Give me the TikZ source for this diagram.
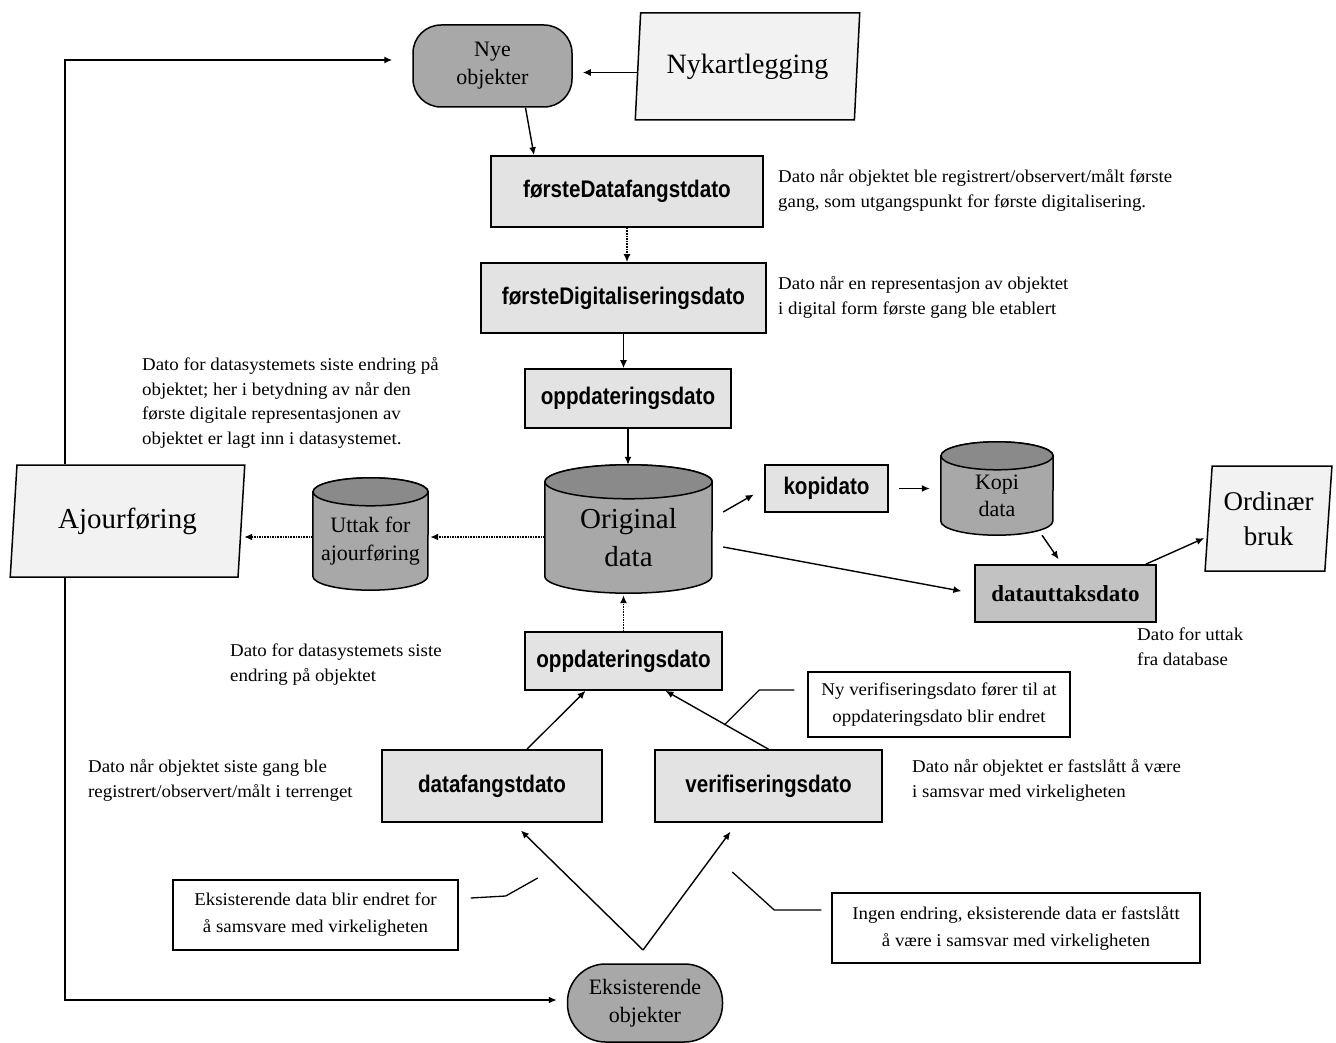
\documentclass[tikz,border=0pt]{standalone}
\usepackage{fontspec}
\setmainfont{Liberation Serif}
\newfontfamily\annotfont[FakeStretch=1.05]{Liberation Serif}
\newfontfamily\boxfont[FakeStretch=0.86]{Liberation Sans}
\usetikzlibrary{arrows.meta,shapes.geometric,calc}
\colorlet{cylfill}{black!34}
\colorlet{capfill}{black!46}
\colorlet{boxfill}{black!11}
\colorlet{parafill}{black!5}
\tikzset{
 arr/.style={-{Latex[length=8pt,width=7pt]}, line width=1.4pt},
 dotarr/.style={-{Latex[length=8pt,width=7pt]}, line width=1.6pt, densely dotted},
 datebox/.style={draw, line width=1.6pt, fill=boxfill, inner sep=2pt, font=\boxfont\bfseries\fontsize{24}{26}\selectfont},
 para/.style={trapezium, trapezium stretches=true, draw, line width=1.5pt, fill=parafill, inner sep=0pt, align=center},
 note/.style={align=left, inner sep=0pt, anchor=west, font=\annotfont\fontsize{18}{25}\selectfont},
 callout/.style={draw, line width=1.5pt, fill=white, align=center, inner sep=0pt, font=\annotfont\fontsize{18}{27}\selectfont},
 leader/.style={line width=1.3pt},
 term/.style={draw, line width=1.5pt, fill=cylfill, align=center, inner sep=0pt},
}
\newcommand\mycyl[8]{%
  \node[inner sep=0pt, minimum width=#4pt, minimum height=#5pt] (#1) at (#2,-#3) {};
  \path[draw, line width=1.5pt, fill=cylfill]
    ($(#1.north west)+(0,-#6)$) -- ($(#1.south west)+(0,#6)$)
    arc[start angle=180, end angle=360, x radius=#4/2, y radius=#6]
    -- ($(#1.north east)+(0,-#6)$)
    arc[start angle=0, end angle=180, x radius=#4/2, y radius=#6] -- cycle;
  \draw[line width=1.5pt, fill=capfill] ($(#1.north)+(0,-#6)$) ellipse[x radius=#4/2, y radius=#6];
  \node[align=center, inner sep=0pt, font=#8] (#1t) at ($(#1.center)+(0,-#6/2)$) {#7};
}
\begin{document}
\begin{tikzpicture}[x=1pt,y=1pt]
\useasboundingbox (0,0) rectangle (1336,-1043);

% terminals and input shapes
\node[term, rounded corners=28pt, minimum width=159pt, minimum height=82pt, font=\fontsize{22}{28}\selectfont] (nye) at (492.5,-66) {Nye\\objekter};
\node[para, trapezium left angle=81, trapezium right angle=99, minimum width=225pt, minimum height=107pt, font=\fontsize{28}{30}\selectfont] (nyk) at (747.5,-66.5) {Nykartlegging};
\node[para, trapezium left angle=81, trapezium right angle=99, minimum width=235pt, minimum height=112pt, font=\fontsize{29}{30}\selectfont] (ajo) at (127.5,-521) {Ajourføring};
\node[para, trapezium left angle=84, trapezium right angle=96, minimum width=127pt, minimum height=105pt, font=\fontsize{27}{35}\selectfont] (ord) at (1268.5,-518.5) {Ordinær\\bruk};
\node[term, rounded corners=38pt, minimum width=155pt, minimum height=78pt, font=\fontsize{22}{28}\selectfont] (eks) at (645,-1003) {Eksisterende\\objekter};

% date boxes
\node[datebox, minimum width=272pt, minimum height=71pt] (fdf) at (627,-191.5) {førsteDatafangstdato};
\node[datebox, minimum width=285pt, minimum height=70pt] (fdig) at (623.5,-298) {førsteDigitaliseringsdato};
\node[datebox, minimum width=206pt, minimum height=59pt] (opp1) at (628,-398.5) {oppdateringsdato};
\node[datebox, minimum width=123pt, minimum height=47pt] (kopi) at (826.5,-488.5) {kopidato};
\node[datebox, minimum width=181pt, minimum height=57pt, fill=black!24, font=\rmfamily\bfseries\fontsize{23}{26}\selectfont] (daut) at (1065.5,-593.5) {datauttaksdato};
\node[datebox, minimum width=197pt, minimum height=58pt] (opp2) at (623.5,-661) {oppdateringsdato};
\node[datebox, minimum width=220pt, minimum height=72pt] (dfang) at (492,-786) {datafangstdato};
\node[datebox, minimum width=227pt, minimum height=72pt] (ver) at (768.5,-786) {verifiseringsdato};

% cylinders
\mycyl{orig}{628.5}{529}{167}{128}{17}{Original\\data}{\fontsize{29}{38}\selectfont}
\mycyl{uttak}{370.5}{534}{115}{112}{14}{Uttak for\\ajourføring}{\fontsize{22}{28}\selectfont}
\mycyl{kdata}{997}{488.5}{112}{93}{14}{Kopi\\data}{\fontsize{22}{27}\selectfont}

% callouts
\node[callout, minimum width=262pt, minimum height=65pt] (nyver) at (939,-704.5) {Ny verifiseringsdato fører til at\\oppdateringsdato blir endret};
\node[callout, minimum width=285pt, minimum height=70pt] (eksc) at (315.5,-915) {Eksisterende data blir endret for\\å samsvare med virkeligheten};
\node[callout, minimum width=368pt, minimum height=70pt] (ingen) at (1016,-928) {Ingen endring, eksisterende data er fastslått\\å være i samsvar med virkeligheten};

% notes
\node[note] (n1) at (778,-190.5) {Dato når objektet ble registrert/observert/målt første\\gang, som utgangspunkt for første digitalisering.};
\node[note] (n2) at (778,-297.5) {Dato når en representasjon av objektet\\i digital form første gang ble etablert};
\node[note, font=\annotfont\fontsize{18}{24.7}\selectfont] (n3) at (142,-403) {Dato for datasystemets siste endring på\\objektet; her i betydning av når den\\første digitale representasjonen av\\objektet er lagt inn i datasystemet.};
\node[note] (n4) at (230,-665) {Dato for datasystemets siste\\endring på objektet};
\node[note] (n5) at (88,-780) {Dato når objektet siste gang ble\\registrert/observert/målt i terrenget};
\node[note] (n6) at (912,-780) {Dato når objektet er fastslått å være\\i samsvar med virkeligheten};
\node[note] (n7) at (1137,-647) {Dato for uttak\\fra database};

% coordinates
\coordinate (lx) at (65,-521);
\coordinate (vtip) at (643,-950);

% connectors
\draw[arr, shorten >=10pt] ([yshift=-6pt]nyk.west) -- ([yshift=-6pt]nyk.west -| nye.east);
\draw[arr] ([xshift=33pt]nye.south) -- ([xshift=-93pt]fdf.north);
\draw[arr] (lx |- ajo.north) |- ([xshift=-20pt,yshift=6pt]nye.west);
\draw[dotarr] (fdf.south) -- (fdf.south |- fdig.north);
\draw[arr] (fdig.south) -- (fdig.south |- opp1.north);
\draw[arr] (opp1.south) -- (opp1.south |- orig.north);
\draw[dotarr, shorten >=2pt] ([yshift=-8pt]orig.west) -- ([yshift=-8pt]orig.west -| uttak.east);
\draw[dotarr, shorten >=2pt] ([yshift=-3pt]uttak.west) -- ([yshift=-3pt]uttak.west -| ajo.east);
\draw[arr, shorten >=12pt] ([xshift=11pt,yshift=17pt]orig.east) -- (kopi.west);
\draw[arr, shorten <=10pt, shorten >=11pt] (kopi.east) -- (kopi.east -| kdata.west);
\draw[arr, shorten >=6pt] ([xshift=45pt]kdata.south) -- ([xshift=-3.5pt]daut.north);
\draw[arr, shorten >=13pt] ([xshift=11pt,yshift=-18pt]orig.east) -- (daut.west);
\draw[arr, shorten >=4pt] ([xshift=-11pt]daut.north east) -- ([yshift=-18pt]ord.west);
\draw[dotarr, shorten >=2pt] (opp2.north) -- (opp2.north |- orig.south);
\draw[arr] ([xshift=35pt]dfang.north) -- ([xshift=-38pt]opp2.south);
\draw[arr] (ver.north) -- ([xshift=42pt]opp2.south);
\draw[arr, shorten >=11pt] (vtip) -- ([xshift=21pt]dfang.south);
\draw[arr, shorten >=11pt] (vtip) -- ([xshift=-31.5pt]ver.south);
\draw[arr, shorten >=10pt] (lx |- ajo.south) |- ([yshift=3pt]eks.west);

% leaders
\draw[leader] ([xshift=-13pt,yshift=14.5pt]nyver.west) -- ++(-35,0) -- ++(-35,-35);
\draw[leader] ([xshift=12pt,yshift=17pt]eksc.east) -- ++(35,2) -- ++(32,18);
\draw[leader] ([xshift=-10pt,yshift=18pt]ingen.west) -- ++(-47,0) -- ++(-42,38);
\end{tikzpicture}
\end{document}
